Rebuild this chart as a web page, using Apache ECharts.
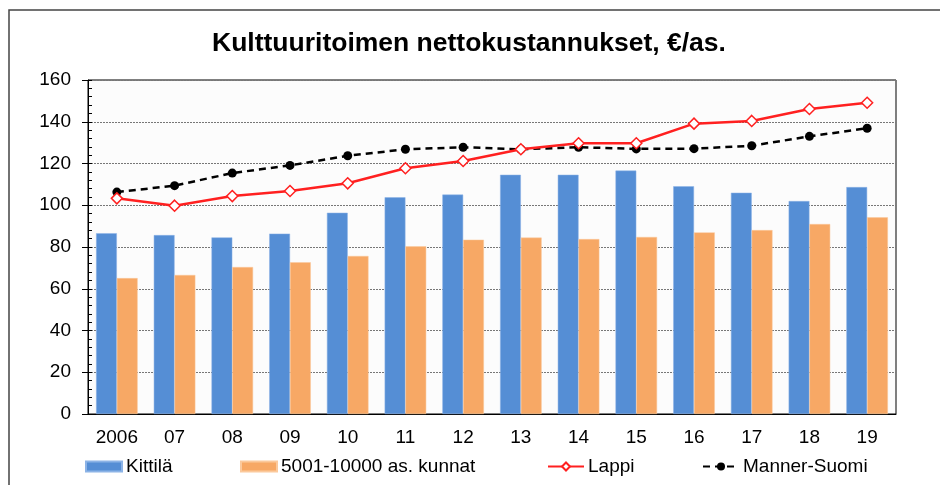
<!DOCTYPE html>
<html>
<head>
<meta charset="utf-8">
<title>Kulttuuritoimen nettokustannukset</title>
<script src="https://cdn.jsdelivr.net/npm/echarts@6/dist/echarts.min.js"></script>
<style>
  html, body { margin: 0; padding: 0; background: #fff; }
  #main { width: 940px; height: 485px; }
</style>
</head>
<body>
<div id="main"></div>
<script>
var years = ['2006', '07', '08', '09', '10', '11', '12', '13', '14', '15', '16', '17', '18', '19'];
var kittila = [86.6, 85.7, 84.6, 86.4, 96.4, 103.8, 105.1, 114.6, 114.6, 116.6, 109.1, 106.0, 102.0, 108.7];
var kunnat = [65.1, 66.6, 70.4, 72.7, 75.7, 80.3, 83.5, 84.5, 83.8, 84.8, 87.0, 88.1, 91.0, 94.2];
var lappi = [103.3, 99.8, 104.4, 106.8, 110.5, 117.7, 121.2, 126.8, 129.7, 129.7, 139.1, 140.4, 146.1, 149.1];
var mannerSuomi = [106.3, 109.4, 115.4, 119.1, 123.7, 126.8, 127.8, 126.8, 127.8, 127.0, 127.1, 128.5, 133.0, 136.9];
var yTicks = { min: 0, max: 160, interval: 20 };

var font = 'Liberation Sans, Arial, sans-serif';
var chart = echarts.init(document.getElementById('main'));

function legendAt(name, left, icon) {
    var l = {
        data: [name],
        left: left,
        top: 457,
        padding: 0,
        itemWidth: 36,
        itemHeight: 10,
        itemGap: 4,
        textStyle: { fontFamily: font, fontSize: 19, color: '#000', padding: [0, 0, 0, -1] },
        selectedMode: false
    };
    if (icon) l.icon = icon;
    return l;
}

var option = {
    backgroundColor: '#fff',
    animation: false,
    graphic: [{
        type: 'rect',
        shape: { x: 9, y: 10, width: 960, height: 500 },
        style: { fill: 'none', stroke: '#444', lineWidth: 1.5 }
    }],
    title: {
        text: 'Kulttuuritoimen nettokustannukset, €/as.',
        left: 212,
        top: 30,
        padding: 0,
        textStyle: {
            fontFamily: font,
            fontSize: 26.5,
            fontWeight: 'bold',
            color: '#000'
        }
    },
    legend: [
        legendAt('Kittilä', 85, 'rect'),
        legendAt('5001-10000 as. kunnat', 240, 'rect'),
        legendAt('Lappi', 547),
        legendAt('Manner-Suomi', 702)
    ],
    grid: {
        left: 88, right: 44, top: 80, bottom: 71,
        show: true,
        backgroundColor: '#fcfcfc',
        borderColor: '#000',
        borderWidth: 1
    },
    xAxis: [{
        type: 'category',
        data: years,
        axisLine: { lineStyle: { color: '#000', width: 1 } },
        axisTick: { length: 6, lineStyle: { color: '#000' } },
        axisLabel: { fontFamily: font, fontSize: 19, color: '#000', margin: 14 }
    }, {
        type: 'category',
        data: years,
        position: 'bottom',
        axisLine: { show: false },
        axisTick: { inside: true, length: 6, lineStyle: { color: '#000' } },
        axisLabel: { show: false }
    }],
    yAxis: [{
        type: 'value',
        min: yTicks.min, max: yTicks.max, interval: yTicks.interval,
        axisLine: { show: true, lineStyle: { color: '#000' } },
        axisTick: { show: true, length: 6, lineStyle: { color: '#000' } },
        axisLabel: { fontFamily: font, fontSize: 19, color: '#000', margin: 17 },
        splitLine: { lineStyle: { color: '#777', type: [2, 1], width: 1 } }
    }, {
        type: 'value',
        position: 'left',
        min: yTicks.min, max: yTicks.max, interval: yTicks.interval,
        axisLine: { show: false },
        axisTick: { show: true, inside: true, length: 4, lineStyle: { color: '#000' } },
        minorTick: { show: true, splitNumber: 5, length: 4, lineStyle: { color: '#000' } },
        axisLabel: { show: false },
        splitLine: { show: false }
    }],
    series: [{
        name: 'Kittilä',
        type: 'bar',
        data: kittila,
        barGap: '0%',
        barCategoryGap: '28%',
        itemStyle: { color: '#558ed5', borderColor: '#8cb3e6', borderWidth: 0.5 }
    }, {
        name: '5001-10000 as. kunnat',
        type: 'bar',
        data: kunnat,
        itemStyle: { color: '#f7a865', borderColor: '#fbc99c', borderWidth: 0.5 }
    }, {
        name: 'Lappi',
        type: 'line',
        data: lappi,
        symbol: 'diamond',
        symbolSize: 11,
        lineStyle: { color: '#ff2020', width: 2.5 },
        itemStyle: { color: '#fff', borderColor: '#ff2020', borderWidth: 1.5 },
        z: 5
    }, {
        name: 'Manner-Suomi',
        type: 'line',
        data: mannerSuomi,
        symbol: 'circle',
        symbolSize: 9,
        lineStyle: { color: '#000', width: 2.5, type: [7, 5] },
        itemStyle: { color: '#000' },
        z: 4
    }]
};

chart.setOption(option);
</script>
</body>
</html>
